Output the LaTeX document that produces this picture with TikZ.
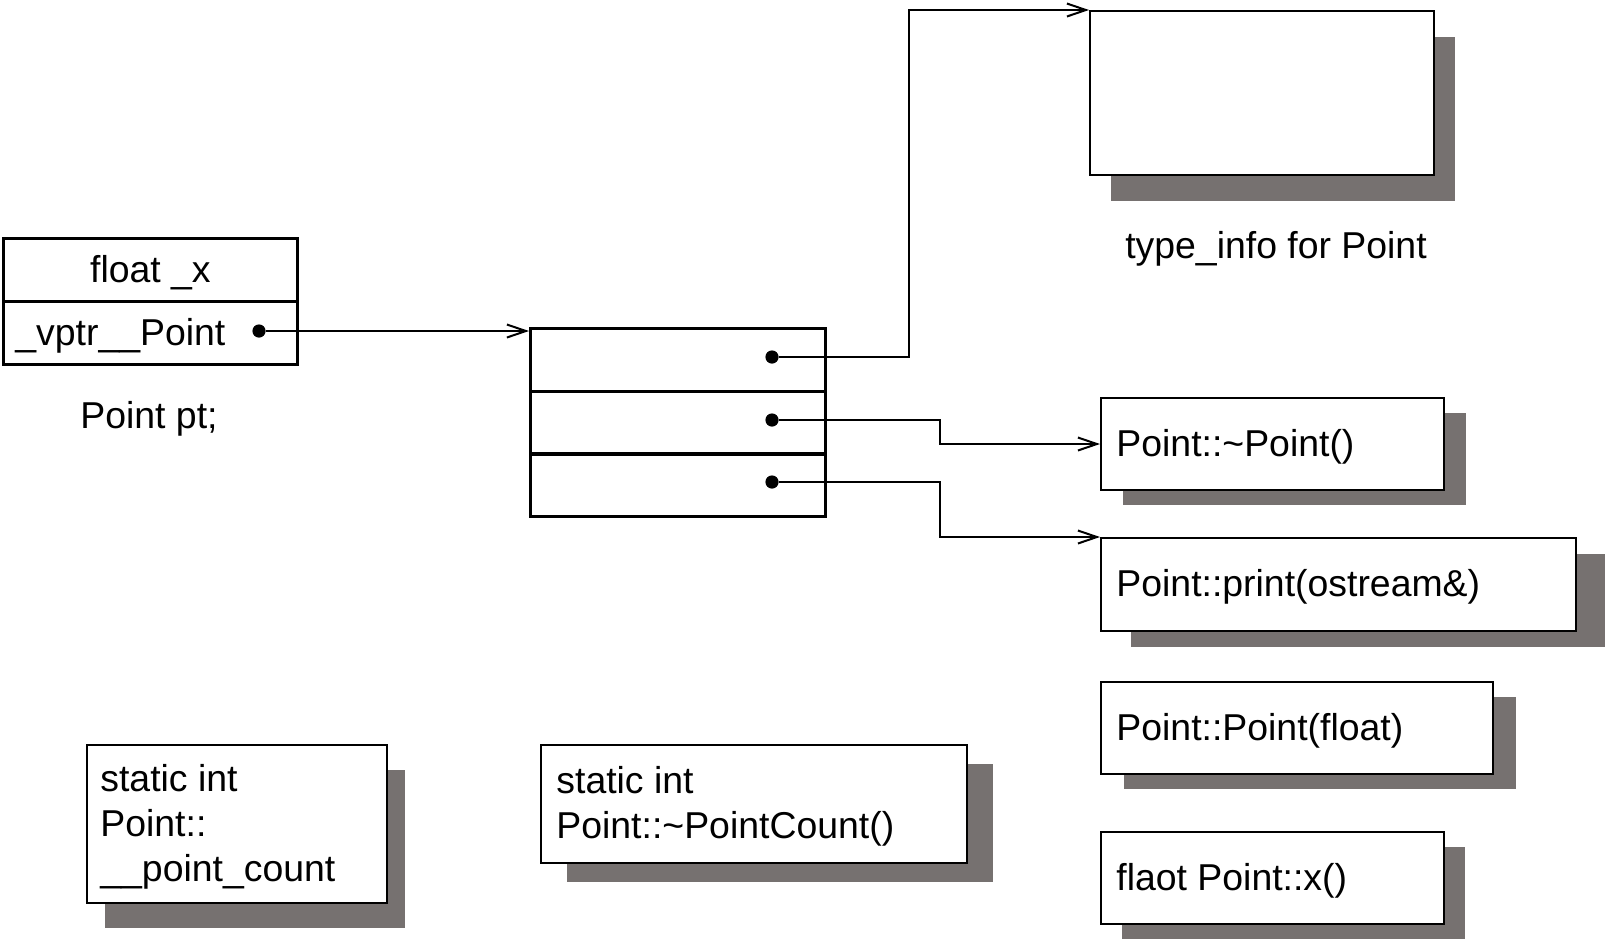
\documentclass[tikz,border=0pt]{standalone}
\usepackage{fontspec}
\setmainfont{Liberation Sans}
\usetikzlibrary{arrows.meta,shadows,calc}
\definecolor{shadowgray}{RGB}{118,113,112}
\begin{document}
\begin{tikzpicture}[x=0.5pt,y=-0.5pt,
  font=\fontsize{18.7pt}{22.5pt}\selectfont,
  cell/.style={draw, line width=1.4pt, anchor=north west, inner sep=0pt, minimum width=147pt, minimum height=31.5pt},
  vcell/.style={draw, line width=1.4pt, anchor=north west, inner sep=0pt, minimum width=147.5pt, minimum height=31.5pt},
  fbox/.style={draw, line width=1pt, fill=white, anchor=north west, inner sep=0pt},
  txt/.style={anchor=west, align=left, inner sep=0pt},
  sh/.style 2 args={drop shadow={shadow xshift=#1, shadow yshift=#2, fill=shadowgray, opacity=1}},
  dot/.style={circle, fill=black, inner sep=0pt, minimum size=6.6pt},
  conn/.style={line width=0.85pt, -{Straight Barb[length=9.5pt,width=6.5pt,line width=1pt]}}]
\useasboundingbox (0,0) rectangle (1605,939);

% object pt
\node[cell] (fx) at (2,237) {};
\node (fxt) at ($(fx.center)+(0,2.5)$) {float \_x};
\node[cell] (vp) at (2,300) {};
\node[txt] (vpt) at ($(vp.west)+(13,2.5)$) {\_vptr\_\_Point};
\node[dot] (dv) at (259,331) {};
\node (ptl) at (149,419) {Point pt;};

% virtual table
\node[vcell] (vt1) at (529,327) {};
\node[vcell] (vt2) at (529,390) {};
\node[vcell] (vt3) at (529,452) {};
\node[dot] (d1) at (772,357) {};
\node[dot] (d2) at (772,420) {};
\node[dot] (d3) at (772,482) {};
\coordinate (j1) at (909,0);
\coordinate (j2) at (940,0);

% right column
\node[fbox, sh={10.5pt}{-13pt}, minimum width=172pt, minimum height=82pt] (ti) at (1089,10) {};
\node (til) at (1276,249) {type\_info for Point};
\node[fbox, sh={11pt}{-7.5pt}, minimum width=171.5pt, minimum height=46pt] (dtor) at (1100,397) {};
\node[txt] (dtort) at ($(dtor.west)+(16,2.5)$) {Point::\textasciitilde Point()};
\node[fbox, sh={15pt}{-8pt}, minimum width=237.5pt, minimum height=46.5pt] (prn) at (1100,537) {};
\node[txt] (prnt) at ($(prn.west)+(16,2.5)$) {Point::print(ostream\&)};
\node[fbox, sh={11.5pt}{-7.5pt}, minimum width=196pt, minimum height=46pt] (ctor) at (1100,681) {};
\node[txt] (ctort) at ($(ctor.west)+(16,2.5)$) {Point::Point(float)};
\node[fbox, sh={10.5pt}{-7.5pt}, minimum width=171.5pt, minimum height=46pt] (xfn) at (1100,831) {};
\node[txt] (xfnt) at ($(xfn.west)+(16,2.5)$) {flaot Point::x()};

% bottom boxes
\node[fbox, sh={9pt}{-12.5pt}, minimum width=150pt, minimum height=79pt] (pc) at (86,744) {};
\node[txt] (pct) at ($(pc.west)+(14,2.5)$) {static int\\Point::\\\_\_point\_count};
\node[fbox, sh={13pt}{-9.5pt}, minimum width=213pt, minimum height=59pt] (pcnt) at (540,744) {};
\node[txt] (pcntt) at ($(pcnt.west)+(16,2.5)$) {static int\\Point::\textasciitilde PointCount()};

% connectors
\draw[conn] (dv) -- (dv -| vt1.west);
\draw[conn] (d1) -- (d1 -| j1) |- (ti.north west);
\draw[conn] (d2) -- (d2 -| j2) |- (dtor.west);
\draw[conn] (d3) -- (d3 -| j2) |- (prn.north west);
\end{tikzpicture}
\end{document}
